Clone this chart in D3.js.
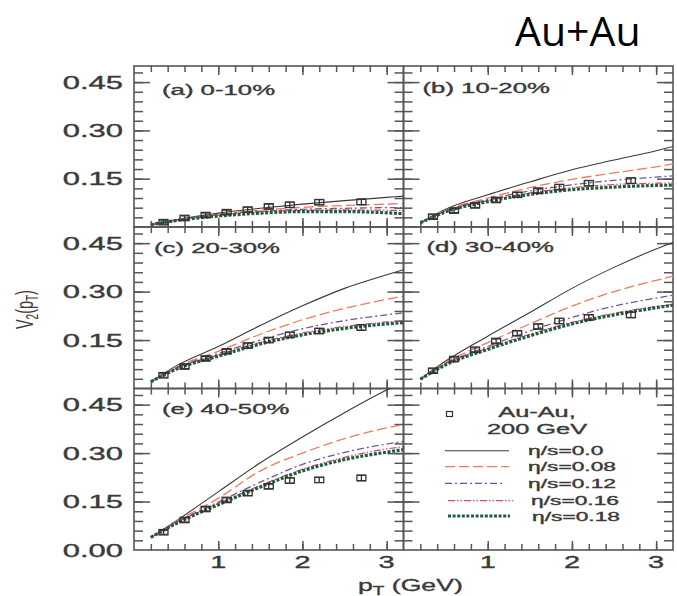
<!DOCTYPE html>
<html><head><meta charset="utf-8">
<script src="https://cdn.jsdelivr.net/npm/d3@7"></script>
<style>body{margin:0;background:#fff}</style>
</head><body>
<svg id="chart" width="677" height="596"></svg>
<script>
// ---------- data ----------
const panelLabels = ["(a) 0-10%", "(b) 10-20%", "(c) 20-30%", "(d) 30-40%", "(e) 40-50%"];
const seriesNames = ["η/s=0.0", "η/s=0.08", "η/s=0.12", "η/s=0.16", "η/s=0.18"];
const legendTitle = ["Au-Au,", "200 GeV"];
const xTickLabels = [1, 2, 3];
const yTickLabels = [0.00, 0.15, 0.30, 0.45];
const curvePt = [0.2, 0.5, 1.0, 1.5, 2.0, 2.5, 3.0, 3.2];
const dataPt = [0.35, 0.6, 0.85, 1.1, 1.35, 1.6, 1.85, 2.2, 2.7];

// curves: [eta/s=0.0, 0.08, 0.12, 0.16, 0.18]
const curvesA = [
  [0.007, 0.022, 0.043, 0.058, 0.071, 0.082, 0.092, 0.096],
  [0.007, 0.021, 0.040, 0.052, 0.061, 0.067, 0.071, 0.073],
  [0.007, 0.021, 0.038, 0.049, 0.055, 0.058, 0.060, 0.060],
  [0.007, 0.021, 0.037, 0.047, 0.052, 0.053, 0.052, 0.051],
  [0.007, 0.020, 0.034, 0.043, 0.048, 0.048, 0.044, 0.041]
];
const curvesB = [
  [0.013, 0.055, 0.100, 0.140, 0.178, 0.208, 0.237, 0.250],
  [0.013, 0.052, 0.090, 0.122, 0.148, 0.168, 0.187, 0.196],
  [0.013, 0.050, 0.085, 0.112, 0.131, 0.145, 0.155, 0.159],
  [0.013, 0.049, 0.082, 0.106, 0.122, 0.132, 0.136, 0.137],
  [0.013, 0.047, 0.079, 0.101, 0.116, 0.124, 0.129, 0.130]
];
const curvesC = [
  [0.021, 0.070, 0.130, 0.195, 0.256, 0.310, 0.352, 0.368],
  [0.021, 0.066, 0.115, 0.168, 0.213, 0.248, 0.276, 0.286],
  [0.021, 0.063, 0.108, 0.150, 0.185, 0.210, 0.228, 0.234],
  [0.021, 0.062, 0.104, 0.143, 0.172, 0.192, 0.206, 0.210],
  [0.021, 0.060, 0.100, 0.138, 0.166, 0.186, 0.200, 0.204]
];
const curvesD = [
  [0.029, 0.085, 0.162, 0.235, 0.310, 0.375, 0.432, 0.452],
  [0.029, 0.080, 0.142, 0.200, 0.255, 0.300, 0.335, 0.348],
  [0.029, 0.077, 0.130, 0.178, 0.220, 0.255, 0.280, 0.289],
  [0.029, 0.075, 0.125, 0.168, 0.205, 0.233, 0.254, 0.260],
  [0.029, 0.073, 0.121, 0.163, 0.200, 0.228, 0.250, 0.258]
];
const curvesE = [
  [0.039, 0.090, 0.180, 0.270, 0.350, 0.425, 0.495, 0.520],
  [0.039, 0.088, 0.160, 0.245, 0.300, 0.345, 0.378, 0.388],
  [0.039, 0.085, 0.148, 0.210, 0.265, 0.302, 0.328, 0.336],
  [0.039, 0.084, 0.144, 0.200, 0.250, 0.287, 0.313, 0.320],
  [0.039, 0.082, 0.140, 0.195, 0.245, 0.280, 0.303, 0.311]
];
// PHENIX Au-Au 200 GeV data points
const dataA = [0.015, 0.028, 0.037, 0.046, 0.054, 0.064, 0.069, 0.077, 0.078];
const dataB = [0.032, 0.051, 0.067, 0.084, 0.100, 0.113, 0.124, 0.136, 0.144];
const dataC = [0.041, 0.068, 0.093, 0.115, 0.133, 0.150, 0.166, 0.178, 0.189];
const dataD = [0.055, 0.091, 0.120, 0.147, 0.171, 0.192, 0.209, 0.220, 0.228];
const dataE = [0.055, 0.093, 0.127, 0.155, 0.176, 0.197, 0.215, 0.217, 0.223];
const dataErr = [0.003, 0.003, 0.003, 0.003, 0.004, 0.004, 0.005, 0.005, 0.006];

// ---------- layout / style ----------
const allCurves = [curvesA, curvesB, curvesC, curvesD, curvesE];
const allData = [dataA, dataB, dataC, dataD, dataE];
const colX = [134, 403.5, 673];
const rowY = [66, 227, 388.5, 550];
const labelOff = [[28, 29], [19, 27], [20, 26], [23, 25], [28, 25]];
const styles = [
  {color: "#3a3a3a", width: 1.1, dash: null},
  {color: "#f07a5a", width: 1.3, dash: "10,4"},
  {color: "#6a5a98", width: 1.3, dash: "7,3,2,3"},
  {color: "#d84a6a", width: 1.2, dash: "7,2,1.5,2,1.5,2"},
  {color: "#1d5e3c", width: 3.2, dash: "3,1.6"}
];
const FONT = "'Liberation Sans', Arial, sans-serif";
const TXT = "#3a3a3a";
const AX = "#555";

const svg = d3.select("#chart").attr("font-family", FONT);

function stext(parent, x, y, size, sx, anchor) {
  return parent.append("g")
    .attr("transform", `translate(${x},${y}) scale(${sx},1)`)
    .append("text").attr("text-anchor", anchor).attr("font-size", size)
    .attr("fill", TXT).attr("stroke", TXT).attr("stroke-width", 0.35);
}

// title
svg.append("text").attr("x", 515).attr("y", 46).attr("font-family", "'Open Sans', sans-serif")
  .attr("font-size", 41).attr("fill", "#000").text("Au+Au");

const xMinor = d3.range(1, 16).map(i => +(i * 0.2).toFixed(2));
const yMinor = d3.range(1, 17).map(i => +(i * 0.03).toFixed(2));
const yMajor = [0.15, 0.30, 0.45];

function drawPanel(idx) {
  const col = idx % 2, row = Math.floor(idx / 2);
  const x0 = colX[col], x1 = colX[col + 1], y0 = rowY[row], y1 = rowY[row + 1];
  const pw = x1 - x0, ph = y1 - y0;
  const g = svg.append("g").attr("transform", `translate(${x0},${y0})`);
  const x = d3.scaleLinear().domain([0, 3.2]).range([0, pw]);
  const y = d3.scaleLinear().domain([0, 0.5]).range([ph, 0]);

  const clipId = "clip" + idx;
  g.append("clipPath").attr("id", clipId).append("rect").attr("width", pw).attr("height", ph);

  // ticks via d3 axes (inward)
  const axes = [
    [d3.axisBottom(x).tickValues(xMinor).tickSize(-6), `translate(0,${ph})`],
    [d3.axisBottom(x).tickValues(xTickLabels).tickSize(-9), `translate(0,${ph})`],
    [d3.axisTop(x).tickValues(xMinor).tickSize(-6), null],
    [d3.axisTop(x).tickValues(xTickLabels).tickSize(-9), null],
    [d3.axisLeft(y).tickValues(yMinor).tickSize(-9), null],
    [d3.axisLeft(y).tickValues(yMajor).tickSize(-16), null],
    [d3.axisRight(y).tickValues(yMinor).tickSize(-9), `translate(${pw},0)`],
    [d3.axisRight(y).tickValues(yMajor).tickSize(-16), `translate(${pw},0)`]
  ];
  axes.forEach(([ax, tr]) => {
    const a = g.append("g").call(ax.tickFormat(""));
    if (tr) a.attr("transform", tr);
    a.select(".domain").remove();
    a.selectAll("line").attr("stroke", AX).attr("stroke-width", 1.5);
  });
  g.append("rect").attr("width", pw).attr("height", ph)
    .attr("fill", "none").attr("stroke", AX).attr("stroke-width", 1.6);

  // y tick labels (left column)
  if (col === 0) {
    yTickLabels.forEach(v => {
      if (v === 0 && row < 2) return;
      stext(svg, x0 - 11, y0 + y(v) + 6.5, 18, 1.72, "end").text(v.toFixed(2));
    });
  }
  // x tick labels (bottom row)
  if (row === 2) {
    xTickLabels.forEach(v => {
      stext(svg, x0 + x(v), 568, 17, 1.7, "middle").text(v);
    });
  }

  if (idx < 5) {
    const cg = g.append("g").attr("clip-path", `url(#${clipId})`);
    const line = d3.line().x(d => x(d[0])).y(d => y(d[1])).curve(d3.curveMonotoneX);
    allCurves[idx].forEach((vals, s) => {
      const st = styles[s];
      cg.append("path").datum(curvePt.map((p, i) => [p, vals[i]]))
        .attr("d", line).attr("fill", "none").attr("stroke", st.color)
        .attr("stroke-width", st.width).attr("stroke-dasharray", st.dash);
    });
    // data points
    const pts = dataPt.map((p, i) => ({p, v: allData[idx][i], e: dataErr[i]}));
    const pg = g.append("g").attr("stroke", "#333").attr("fill", "none").attr("stroke-width", 1.3);
    pts.forEach(d => {
      const cx = x(d.p), cy = y(d.v), hi = y(d.v + d.e), lo = y(d.v - d.e);
      pg.append("rect").attr("x", cx - 4.5).attr("y", cy - 2.7).attr("width", 9).attr("height", 5.4);
      pg.append("line").attr("x1", cx).attr("x2", cx).attr("y1", hi - 1).attr("y2", lo + 1);
      pg.append("line").attr("x1", cx - 4.5).attr("x2", cx + 4.5).attr("y1", hi - 1).attr("y2", hi - 1).attr("stroke-width", 1);
      pg.append("line").attr("x1", cx - 4.5).attr("x2", cx + 4.5).attr("y1", lo + 1).attr("y2", lo + 1).attr("stroke-width", 1);
    });
    const [dx, dy] = labelOff[idx];
    stext(svg, x0 + dx, y0 + dy, 14, 1.84, "start").text(panelLabels[idx]);
  } else {
    // legend panel
    svg.append("rect").attr("x", 446.5).attr("y", 411.5).attr("width", 6).attr("height", 5)
      .attr("fill", "none").attr("stroke", "#333").attr("stroke-width", 1.2);
    stext(svg, 537, 417, 14.5, 1.75, "middle").text(legendTitle[0]);
    stext(svg, 537, 434, 14.5, 1.75, "middle").text(legendTitle[1]);
    const ly = [450.7, 466.7, 483.3, 500.7, 516];
    const lx = [[445, 509], [445, 509], [445, 505], [448, 513], [448, 510]];
    const tx = [528, 528, 528, 531, 532];
    styles.forEach((st, s) => {
      svg.append("line").attr("x1", lx[s][0]).attr("x2", lx[s][1]).attr("y1", ly[s]).attr("y2", ly[s])
        .attr("stroke", st.color).attr("stroke-width", st.width).attr("stroke-dasharray", st.dash);
      stext(svg, tx[s], ly[s] + 4.5, 12, 1.9, "start").text(seriesNames[s]);
    });
  }
}
for (let i = 0; i < 6; i++) drawPanel(i);

// axis titles
const xt = stext(svg, 358, 591, 17, 1.57, "start");
xt.append("tspan").text("p");
xt.append("tspan").attr("font-size", 12).attr("dy", 4).text("T");
xt.append("tspan").attr("dy", -4).text(" (GeV)");

const ytg = svg.append("g").attr("transform", "translate(33,329) rotate(-90) scale(1,1.65)");
const yt = ytg.append("text").attr("font-size", 14.4).attr("fill", TXT);
yt.append("tspan").text("V");
yt.append("tspan").attr("font-size", 10).attr("dy", 3).text("2");
yt.append("tspan").attr("dy", -3).text("(p");
yt.append("tspan").attr("font-size", 10).attr("dy", 3).text("T");
yt.append("tspan").attr("dy", -3).text(")");
</script>
</body></html>
